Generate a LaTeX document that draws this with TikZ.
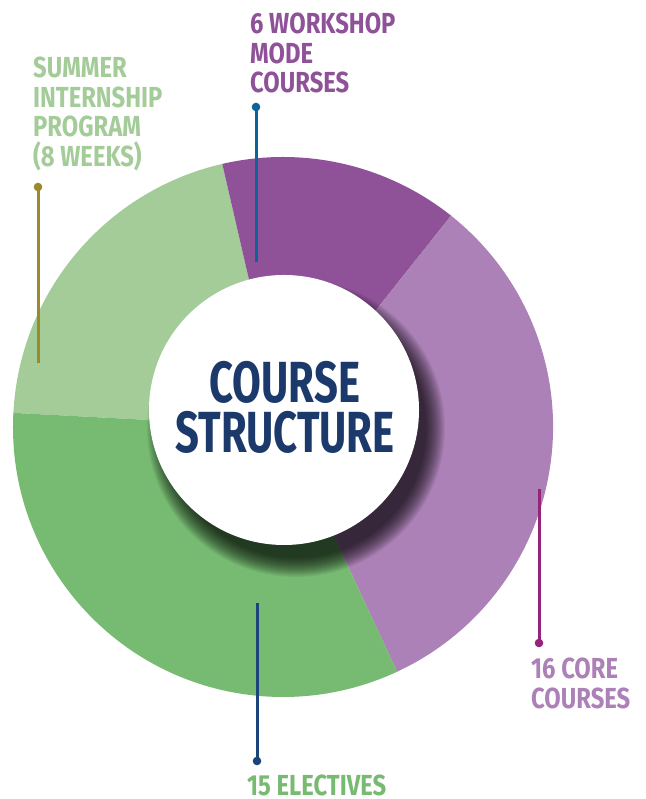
\documentclass[tikz,border=0pt]{standalone}
\usepackage{fontspec}
\newfontfamily\titlefont[FakeStretch=0.72]{Fira Sans}
\newfontfamily\labelfont[FakeStretch=0.82]{Fira Sans}
\definecolor{dpurple}{HTML}{8F5299}
\definecolor{lpurple}{HTML}{AC81B7}
\definecolor{lgreen}{HTML}{A3CC98}
\definecolor{mgreen}{HTML}{77BA72}
\definecolor{navytxt}{HTML}{1B3A6B}
\definecolor{lineblue}{HTML}{0E6399}
\definecolor{lineolive}{HTML}{9B8A2B}
\definecolor{linemag}{HTML}{962479}
\definecolor{linenavy}{HTML}{1B4578}
\tikzset{
  lbl/.style={anchor=north west, inner sep=0pt, align=left,
    font=\labelfont\bfseries\fontsize{29}{29.5}\selectfont},
  ttl/.style={anchor=north, inner sep=0pt, align=center, text=navytxt,
    font=\titlefont\bfseries\fontsize{58}{50}\selectfont},
  leader/.style={line width=3pt},
  dotc/.style={circle, inner sep=0pt, minimum size=8.6pt},
}
\begin{document}
\begin{tikzpicture}[x=1pt,y=1pt]
\useasboundingbox[fill=white] (0,0) rectangle (645,799);
\coordinate (c) at (283,372);
% donut sectors
\fill[lgreen]  (c) -- ++(103:270) arc[start angle=103, end angle=177, radius=270] -- cycle;
\fill[dpurple] (c) -- ++(51.5:270) arc[start angle=51.5, end angle=103, radius=270] -- cycle;
\fill[lpurple] (c) -- ++(-65:270) arc[start angle=-65, end angle=51.5, radius=270] -- cycle;
\fill[mgreen]  (c) -- ++(177:270) arc[start angle=177, end angle=295, radius=270] -- cycle;
% shadow
\coordinate (sh) at (296,371);
\foreach \i in {0,...,19}{
  \fill[black, opacity=0.05] (sh) circle ({149-\i});
}
% white disc
\node[circle, fill=white, minimum size=270pt, inner sep=0pt] (disc) at (284,389) {};
\node[ttl] (title) at (285,438) {COURSE\\STRUCTURE};
% labels
\node[lbl, text=dpurple] (workshop) at (250,786) {6 WORKSHOP\\MODE\\COURSES};
\node[lbl, text=lgreen] (summer) at (33,742) {SUMMER\\INTERNSHIP\\PROGRAM\\(8 WEEKS)};
\node[lbl, text=lpurple] (core) at (531,141) {16 CORE\\COURSES};
\node[lbl, text=mgreen] (elect) at (247,24) {15 ELECTIVES};
% leader lines
\node[dotc, fill=lineblue] (d1) at (256,692) {};
\coordinate (e1) at (256,537);
\draw[leader, lineblue] (d1.center) -- (e1);
\node[dotc, fill=lineolive] (d2) at (38,612) {};
\coordinate (e2) at (38,436);
\draw[leader, lineolive] (d2.center) -- (e2);
\node[dotc, fill=linenavy] (d3) at (257,38) {};
\coordinate (e3) at (257,196);
\draw[leader, linenavy] (d3.center) -- (e3);
\node[dotc, fill=linemag] (d4) at (539,156) {};
\coordinate (e4) at (539,310);
\draw[leader, linemag] (d4.center) -- (e4);
\end{tikzpicture}
\end{document}
